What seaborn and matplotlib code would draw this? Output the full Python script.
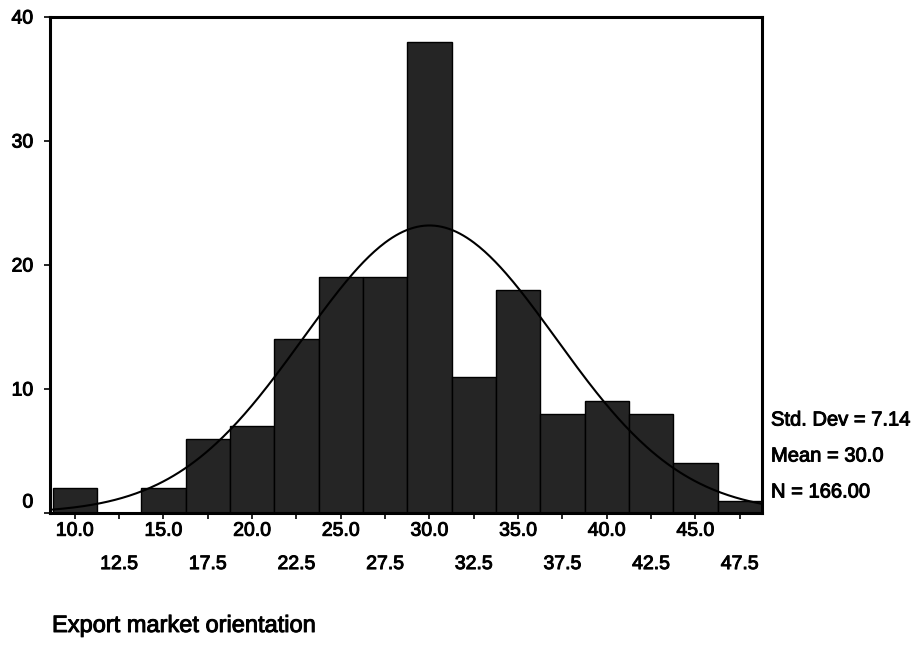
import numpy as np
import pandas as pd
import matplotlib
matplotlib.use("Agg")
import matplotlib.pyplot as plt
import matplotlib.patheffects as pe
from matplotlib.transforms import ScaledTranslation
import seaborn as sns

# Frequencies of the export market orientation score, binned in steps of 2.5
bin_centers = [10.0, 12.5, 15.0, 17.5, 20.0, 22.5, 25.0, 27.5,
               30.0, 32.5, 35.0, 37.5, 40.0, 42.5, 45.0, 47.5]
counts = [2, 0, 2, 6, 7, 14, 19, 19, 38, 11, 18, 8, 9, 8, 4, 1]
tick_labels = ["10.0", "12.5", "15.0", "17.5", "20.0", "22.5", "25.0", "27.5",
               "30.0", "32.5", "35.0", "37.5", "40.0", "42.5", "45.0", "47.5"]
y_ticks = [0, 10, 20, 30, 40]

# Summary statistics of the sample
std_dev = 7.14
mean = 30.0
n_cases = 166
bin_width = 2.5

sns.set_style("ticks")
plt.rcParams["font.family"] = ["Liberation Sans", "DejaVu Sans"]
plt.rcParams["text.color"] = "black"

heavy = [pe.withStroke(linewidth=0.7, foreground="black")]

fig = plt.figure(figsize=(9.16, 6.5), dpi=100)
ax = fig.add_axes([50 / 916, 1 - 513 / 650, (762 - 50) / 916, (513 - 17) / 650])

df = pd.DataFrame({"score": bin_centers, "count": counts})
lo = bin_centers[0] - bin_width / 2
hi = bin_centers[-1] + bin_width / 2
sns.histplot(data=df, x="score", weights="count", binwidth=bin_width,
             binrange=(lo, hi), color="#252525", edgecolor="black",
             linewidth=1.0, alpha=1.0, ax=ax)

# Fitted normal curve scaled to counts per bin
xs = np.linspace(lo, hi, 400)
ys = n_cases * bin_width / (std_dev * np.sqrt(2 * np.pi)) * np.exp(-0.5 * ((xs - mean) / std_dev) ** 2)
sns.lineplot(x=xs, y=ys, color="black", linewidth=1.5, ax=ax, zorder=5)

ax.set_xlim(8.6, hi)
ax.set_ylim(0, 40)
ax.set_xlabel("")
ax.set_ylabel("")
ax.set_yticks(y_ticks)
ax.set_xticks(bin_centers)
ax.set_xticklabels(tick_labels)

for side in ["left", "right", "top", "bottom"]:
    ax.spines[side].set_visible(True)
    ax.spines[side].set_linewidth(2.2)
    ax.spines[side].set_color("black")

ax.tick_params(axis="both", direction="out", length=4, width=1.2,
               colors="black", labelsize=14)
ax.tick_params(axis="y", pad=8)
ax.tick_params(axis="x", pad=3)

# Stagger the x tick labels over two rows
for i, tick in enumerate(ax.xaxis.get_major_ticks()):
    if i % 2 == 1:
        tick.set_pad(27)

# Lift the zero label slightly above the baseline
zero_label = ax.yaxis.get_major_ticks()[0].label1
zero_label.set_transform(zero_label.get_transform()
                         + ScaledTranslation(0, 12 / 100, fig.dpi_scale_trans))

for lab in ax.get_xticklabels() + ax.get_yticklabels():
    lab.set_path_effects(heavy)

fig.text(771 / 916, 1 - 420 / 650, "Std. Dev = 7.14", fontsize=14.5,
         va="center", ha="left", path_effects=heavy)
fig.text(771 / 916, 1 - 456 / 650, "Mean = 30.0", fontsize=14.5,
         va="center", ha="left", path_effects=heavy)
fig.text(771 / 916, 1 - 492 / 650, "N = 166.00", fontsize=14.5,
         va="center", ha="left", path_effects=heavy)

fig.text(52 / 916, 1 - 626 / 650, "Export market orientation", fontsize=17,
         va="center", ha="left", path_effects=heavy)

fig.savefig("out.png", dpi=100, facecolor="white")
